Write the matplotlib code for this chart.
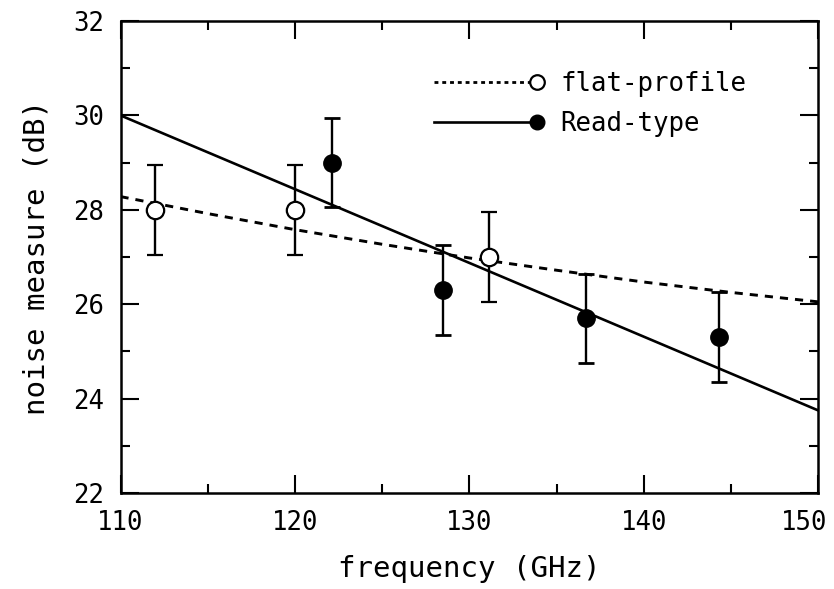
import numpy as np
import matplotlib.pyplot as plt
import matplotlib.transforms as mtransforms
from matplotlib.lines import Line2D
from matplotlib.legend_handler import HandlerLine2D

freq_flat = [112.0, 120.0, 131.1]
nm_flat = [28.0, 28.0, 27.0]
err_flat = [0.95, 0.95, 0.95]

freq_read = [122.1, 128.5, 136.7, 144.3]
nm_read = [29.0, 26.3, 25.7, 25.3]
err_read = [0.95, 0.95, 0.95, 0.95]

# fitted curves
fit_read_f = [110, 150]
fit_read_nm = [30.0, 23.75]
fit_flat_f = [110, 115, 120, 125, 130, 135, 140, 145, 150]
fit_flat_nm = [28.28, 27.92, 27.58, 27.27, 26.98, 26.72, 26.47, 26.25, 26.05]

xticks = [110, 120, 130, 140, 150]
yticks = [22, 24, 26, 28, 30, 32]


class EndMarker(HandlerLine2D):
    # put the legend marker at the right end of the line sample
    def create_artists(self, *args, **kwargs):
        arts = super().create_artists(*args, **kwargs)
        arts[0].set_markevery([2])
        return arts


plt.rcParams['font.family'] = ['DejaVu Sans Mono']

fig = plt.figure(figsize=(8.34, 5.89), dpi=100)
ax = fig.add_axes([0.1445, 0.163, 0.8365, 0.8013])

ax.plot(fit_flat_f, fit_flat_nm, color='black', lw=2.1, dashes=(2.8, 2.4), zorder=2)
ax.plot(fit_read_f, fit_read_nm, color='black', lw=1.9, zorder=2)

ax.errorbar(freq_flat, nm_flat, yerr=err_flat, fmt='o', ms=12.5, mfc='white', mec='black',
            mew=1.6, ecolor='black', elinewidth=1.7, capsize=6, capthick=2, zorder=3)
ax.errorbar(freq_read, nm_read, yerr=err_read, fmt='o', ms=12.5, mfc='black', mec='black',
            ecolor='black', elinewidth=1.7, capsize=6, capthick=2, zorder=3)

ax.set_xlim(110, 150)
ax.set_ylim(22, 32)
ax.set_xticks(xticks)
ax.set_yticks(yticks)
ax.set_xticks(np.arange(115, 150, 10), minor=True)
ax.set_yticks(np.arange(23, 32, 2), minor=True)
ax.tick_params(which='both', direction='in', top=True, right=True, width=1.5, labelsize=18.5, pad=12)
ax.tick_params(which='major', length=13)
ax.tick_params(which='minor', length=6.5)
for s in ax.spines.values():
    s.set_linewidth(1.8)

# the last x label sits a bit left of its tick in the original
last = ax.xaxis.get_major_ticks()[-1].label1
last.set_transform(last.get_transform() +
                   mtransforms.ScaledTranslation(-0.14, 0, fig.dpi_scale_trans))

ax.set_xlabel('frequency (GHz)', fontsize=21, labelpad=14)
ax.set_ylabel('noise measure (dB)', fontsize=21, labelpad=16)

h_flat = Line2D([], [], color='black', lw=2, dashes=(1.4, 1.4), marker='o', ms=10.5,
                mfc='white', mec='black', mew=1.6)
h_read = Line2D([], [], color='black', lw=1.9, marker='o', ms=10.5, mfc='black', mec='black')
ax.legend([h_flat, h_read], ['flat-profile', 'Read-type'], loc='upper right',
          bbox_to_anchor=(0.93, 0.943), frameon=False, fontsize=18.5, numpoints=1,
          handlelength=4, handletextpad=0.9, labelspacing=0.55,
          handler_map={Line2D: EndMarker()})

fig.savefig('out.png', dpi=100)
